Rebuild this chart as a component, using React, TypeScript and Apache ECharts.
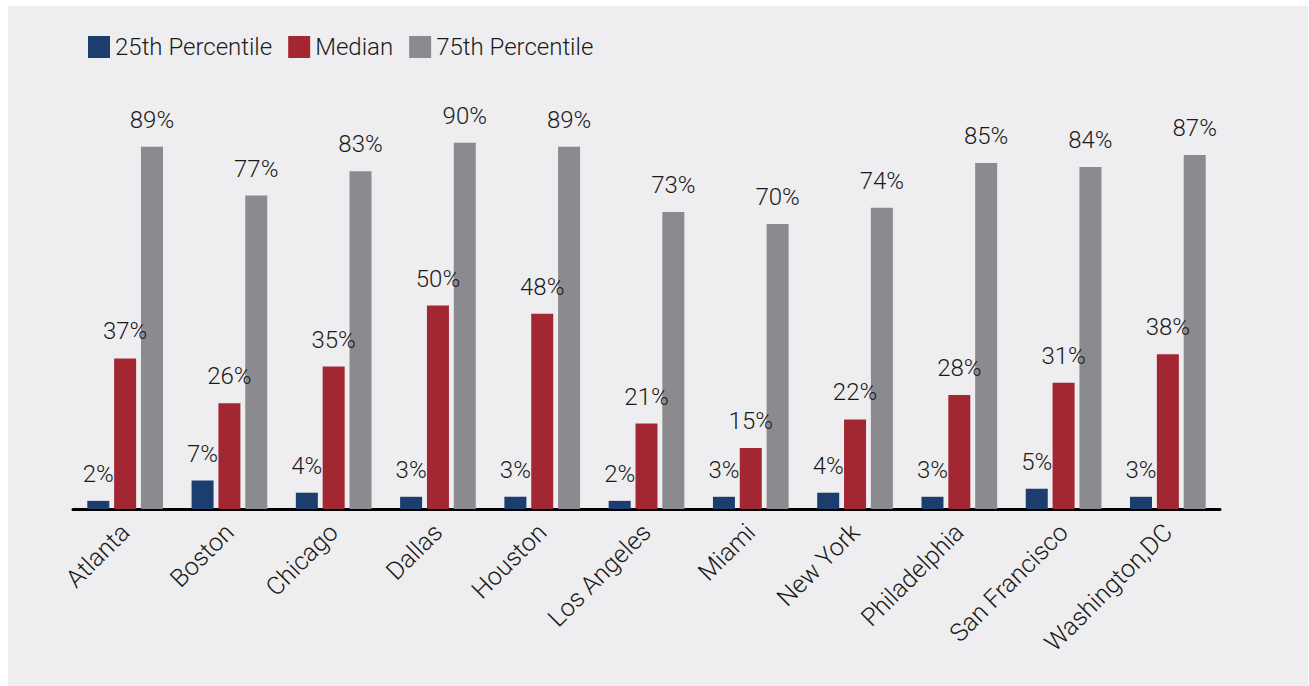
import React, { useEffect, useRef } from "react";
import * as echarts from "echarts";

const cities = ["Atlanta", "Boston", "Chicago", "Dallas", "Houston", "Los Angeles", "Miami", "New York", "Philadelphia", "San Francisco", "Washington,DC"];
const p25 = [2, 7, 4, 3, 3, 2, 3, 4, 3, 5, 3];
const median = [37, 26, 35, 50, 48, 21, 15, 22, 28, 31, 38];
const p75 = [89, 77, 83, 90, 89, 73, 70, 74, 85, 84, 87];

const FONT = "Roboto, 'DejaVu Sans', sans-serif";

export default function App() {
  const ref = useRef<HTMLDivElement>(null);
  useEffect(() => {
    if (!ref.current) return;
    const chart = echarts.init(ref.current, undefined, { renderer: "svg" });
    const label = {
      show: true,
      position: "top" as const,
      distance: 15,
      formatter: "{c}%",
      fontSize: 24,
      fontWeight: 300,
      color: "#1a1a1a",
      fontFamily: FONT,
    };
    const mk = (name: string, data: number[], color: string) => ({
      name,
      type: "bar" as const,
      data,
      barWidth: 22,
      barGap: "22%",
      itemStyle: { color },
      label,
    });
    chart.setOption({
      animation: false,
      backgroundColor: "#eeeef0",
      legend: {
        left: 75,
        top: 24,
        itemWidth: 22,
        itemHeight: 22,
        itemGap: 16,
        icon: "rect",
        textStyle: { fontSize: 24, fontWeight: 300, color: "#1a1a1a", fontFamily: FONT },
        data: ["25th Percentile", "Median", "75th Percentile"],
      },
      grid: { left: 65, right: 88, top: 96, bottom: 177 },
      xAxis: {
        type: "category",
        data: cities,
        axisLine: { lineStyle: { color: "#000", width: 3 } },
        axisTick: { show: false },
        axisLabel: {
          rotate: 45,
          interval: 0,
          fontSize: 25,
          fontWeight: 300,
          color: "#1a1a1a",
          fontFamily: FONT,
          margin: 19,
        },
      },
      yAxis: {
        type: "value",
        min: 0,
        max: 100,
        show: false,
      },
      series: [
        mk("25th Percentile", p25, "#1b3e6f"),
        mk("Median", median, "#a32633"),
        mk("75th Percentile", p75, "#8b8b8f"),
      ],
    });
    return () => chart.dispose();
  }, []);
  return (
    <div style={{ position: "absolute", left: 0, top: 0, width: 1309, height: 686, background: "#fff" }}>
      <div ref={ref} style={{ position: "absolute", left: 8, top: 6, width: 1300, height: 680 }} />
    </div>
  );
}
